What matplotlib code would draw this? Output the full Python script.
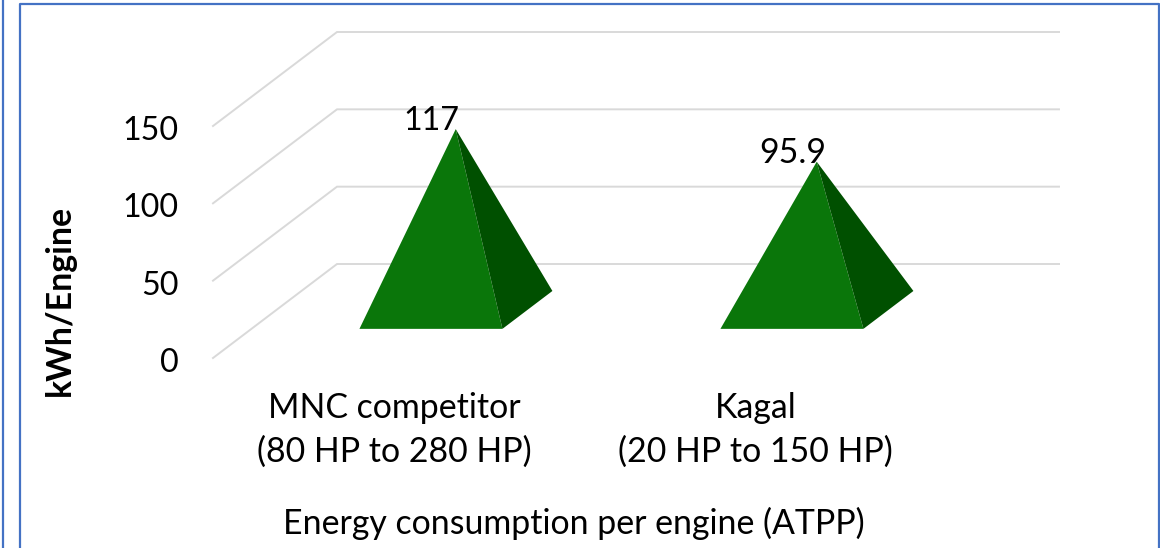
import matplotlib
matplotlib.use("Agg")
import matplotlib.pyplot as plt
from matplotlib.lines import Line2D
from matplotlib.patches import Polygon

plt.rcParams['font.family'] = ['Lato', 'DejaVu Sans']

# --- data ---
categories = ["MNC competitor\n(80 HP to 280 HP)", "Kagal\n(20 HP to 150 HP)"]
values = [117, 95.9]
value_labels = ["117", "95.9"]
y_ticks = [0, 50, 100, 150]

# --- layout (pixels of the 1160x548 picture) ---
W, H = 1160, 548
WALL_LEFT, WALL_RIGHT, WALL_TOP, WALL_BOTTOM = 337, 1059, 32, 264
DEPTH_PX_X, DEPTH_PX_Y = -124, 94   # back wall -> front edge of the floor
BORDER = "#4472C4"
GRID = "#D9D9D9"
FRONT_FACE = "#0A760A"
SIDE_FACE = "#005000"
TICK_SIZE = 23.2
TEXT_SIZE = 24.4


def fx(px):
    return px / W


def fy(px):
    return 1 - px / H


fig = plt.figure(figsize=(W / 100, H / 100), dpi=100, facecolor="white")
ax = fig.add_axes([fx(WALL_LEFT), fy(WALL_BOTTOM),
                   (WALL_RIGHT - WALL_LEFT) / W, (WALL_BOTTOM - WALL_TOP) / H])
ax.set_xlim(-0.5, 1.5)
ax.set_ylim(0, 150)
ax.axis("off")

# data units per pixel
ux = 2 / (WALL_RIGHT - WALL_LEFT)
uy = 150 / (WALL_BOTTOM - WALL_TOP)


def project(x, y, depth):
    """depth: 0 = back wall, 1 = front edge of the floor"""
    return (x + depth * DEPTH_PX_X * ux, y - depth * DEPTH_PX_Y * uy)


# gridlines: back wall and left wall
for t in y_ticks:
    p0 = project(-0.5, t, 1)
    p1 = project(-0.5, t, 0)
    p2 = project(1.5, t, 0)
    ax.plot([p0[0], p1[0], p2[0]], [p0[1], p1[1], p2[1]], color=GRID, lw=1.4,
            clip_on=False, zorder=1, solid_joinstyle="miter")
    ax.annotate(str(t), xy=p0, xytext=(-34, -2), textcoords="offset pixels",
                ha="right", va="center_baseline", fontsize=TICK_SIZE, color="black",
                annotation_clip=False)

# pyramids
HALF_W = 71.5 * ux
D_CENTER, D_FRONT, D_BACK = 0.49, 0.69, 0.287
for i, v in enumerate(values):
    cx = i - 1.0 * ux
    fl = project(cx - HALF_W, 0, D_FRONT)
    fr = project(cx + HALF_W, 0, D_FRONT)
    br = project(cx + HALF_W, 0, D_BACK)
    apex = project(cx, v, D_CENTER)
    ax.add_patch(Polygon([fl, fr, apex], closed=True, fc=FRONT_FACE, ec="none",
                         clip_on=False, zorder=3))
    ax.add_patch(Polygon([fr, br, apex], closed=True, fc=SIDE_FACE, ec="none",
                         clip_on=False, zorder=3))
    ax.annotate(value_labels[i], xy=apex, xytext=(-24, -7), textcoords="offset pixels",
                ha="center", va="bottom", fontsize=TEXT_SIZE if i else TICK_SIZE, color="black",
                annotation_clip=False, zorder=4)
    lx = project(i, 0, 1)[0]
    fig.text((ax.transData.transform((lx, 0))[0] + 1) / W, fy(430), categories[i],
             ha="center", va="center", fontsize=TEXT_SIZE, color="black", linespacing=1.46)

fig.text(fx(574), fy(523), "Energy consumption per engine (ATPP)", ha="center", va="center",
         fontsize=TEXT_SIZE, color="black")
fig.text(fx(60), fy(300), "kWh/Engine", rotation=90, ha="center", va="center",
         fontsize=TEXT_SIZE, fontweight="bold", color="black")

# borders
fig.add_artist(Line2D([fx(2.5), fx(2.5)], [0, 1], color=BORDER, lw=1.6))
fig.add_artist(Line2D([fx(19.5), fx(19.5), fx(1159), fx(1159)], [0, fy(4), fy(4), 0],
                      color=BORDER, lw=1.6))

fig.savefig("out.png", dpi=100)
